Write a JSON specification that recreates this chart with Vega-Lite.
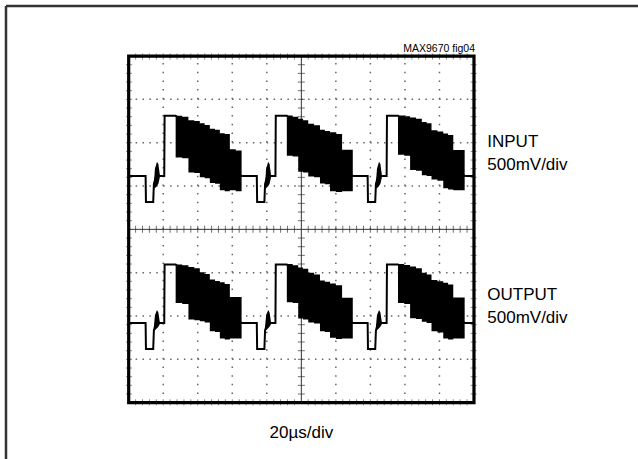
{
  "$schema": "https://vega.github.io/schema/vega-lite/v6.json",
  "width": 632,
  "height": 453,
  "autosize": {"type": "none"},
  "padding": {"left": 6, "top": 6, "right": 0, "bottom": 0},
  "background": "#ffffff",
  "config": {"view": {"stroke": null, "fill": null}, "style": {"cell": {"stroke": null, "fill": null}}},
  "datasets": {
    "trace": [
      {"ch": "in", "t": 0, "v": 1.23}, {"ch": "in", "t": 0.49, "v": 1.23}, {"ch": "in", "t": 0.5, "v": 0.63}, {"ch": "in", "t": 0.71, "v": 0.63},
      {"ch": "in", "t": 0.73, "v": 1.05}, {"ch": "in", "t": 0.8, "v": 1.25}, {"ch": "in", "t": 0.9, "v": 1.23}, {"ch": "in", "t": 1.03, "v": 1.23},
      {"ch": "in", "t": 1.04, "v": 2.62}, {"ch": "in", "t": 1.36, "v": 2.62}, {"ch": "in", "t": 3.27, "v": 1.23}, {"ch": "in", "t": 3.71, "v": 1.23},
      {"ch": "in", "t": 3.72, "v": 0.63}, {"ch": "in", "t": 3.93, "v": 0.63}, {"ch": "in", "t": 3.95, "v": 1.05}, {"ch": "in", "t": 4.02, "v": 1.25},
      {"ch": "in", "t": 4.12, "v": 1.23}, {"ch": "in", "t": 4.25, "v": 1.23}, {"ch": "in", "t": 4.26, "v": 2.62}, {"ch": "in", "t": 4.58, "v": 2.62},
      {"ch": "in", "t": 6.49, "v": 1.23}, {"ch": "in", "t": 6.92, "v": 1.23}, {"ch": "in", "t": 6.93, "v": 0.63}, {"ch": "in", "t": 7.14, "v": 0.63},
      {"ch": "in", "t": 7.16, "v": 1.05}, {"ch": "in", "t": 7.23, "v": 1.25}, {"ch": "in", "t": 7.33, "v": 1.23}, {"ch": "in", "t": 7.47, "v": 1.23},
      {"ch": "in", "t": 7.48, "v": 2.62}, {"ch": "in", "t": 7.8, "v": 2.62}, {"ch": "in", "t": 9.73, "v": 1.23}, {"ch": "in", "t": 10, "v": 1.23},
      {"ch": "out", "t": 0, "v": -2.16}, {"ch": "out", "t": 0.49, "v": -2.16}, {"ch": "out", "t": 0.5, "v": -2.76}, {"ch": "out", "t": 0.71, "v": -2.76},
      {"ch": "out", "t": 0.73, "v": -2.33}, {"ch": "out", "t": 0.8, "v": -2.14}, {"ch": "out", "t": 0.9, "v": -2.16}, {"ch": "out", "t": 1.03, "v": -2.16},
      {"ch": "out", "t": 1.04, "v": -0.81}, {"ch": "out", "t": 1.36, "v": -0.81}, {"ch": "out", "t": 3.27, "v": -2.16}, {"ch": "out", "t": 3.71, "v": -2.16},
      {"ch": "out", "t": 3.72, "v": -2.76}, {"ch": "out", "t": 3.93, "v": -2.76}, {"ch": "out", "t": 3.95, "v": -2.33}, {"ch": "out", "t": 4.02, "v": -2.14},
      {"ch": "out", "t": 4.12, "v": -2.16}, {"ch": "out", "t": 4.25, "v": -2.16}, {"ch": "out", "t": 4.26, "v": -0.81}, {"ch": "out", "t": 4.58, "v": -0.81},
      {"ch": "out", "t": 6.49, "v": -2.16}, {"ch": "out", "t": 6.92, "v": -2.16}, {"ch": "out", "t": 6.93, "v": -2.76}, {"ch": "out", "t": 7.14, "v": -2.76},
      {"ch": "out", "t": 7.16, "v": -2.33}, {"ch": "out", "t": 7.23, "v": -2.14}, {"ch": "out", "t": 7.33, "v": -2.16}, {"ch": "out", "t": 7.47, "v": -2.16},
      {"ch": "out", "t": 7.48, "v": -0.81}, {"ch": "out", "t": 7.8, "v": -0.81}, {"ch": "out", "t": 9.73, "v": -2.16}, {"ch": "out", "t": 10, "v": -2.16}
    ],
    "bands": [
      {"seg": "in1", "t": 1.36, "v": 2.62, "v2": 1.66}, {"seg": "in1", "t": 1.55, "v": 2.6, "v2": 1.64}, {"seg": "in1", "t": 1.73, "v": 2.52, "v2": 1.31}, {"seg": "in1", "t": 1.9, "v": 2.5, "v2": 1.3}, {"seg": "in1", "t": 2.06, "v": 2.45, "v2": 1.2},
      {"seg": "in1", "t": 2.2, "v": 2.41, "v2": 1.18}, {"seg": "in1", "t": 2.35, "v": 2.32, "v2": 1.07}, {"seg": "in1", "t": 2.5, "v": 2.3, "v2": 1.05}, {"seg": "in1", "t": 2.64, "v": 2.22, "v2": 0.9}, {"seg": "in1", "t": 2.78, "v": 2.2, "v2": 0.88}, {"seg": "in1", "t": 2.93, "v": 1.85, "v2": 0.9},
      {"seg": "in1", "t": 3.1, "v": 1.82, "v2": 0.88}, {"seg": "in1", "t": 3.27, "v": 1.82, "v2": 0.88},
      {"seg": "in2", "t": 4.58, "v": 2.63, "v2": 1.7}, {"seg": "in2", "t": 4.75, "v": 2.6, "v2": 1.68}, {"seg": "in2", "t": 4.91, "v": 2.55, "v2": 1.33}, {"seg": "in2", "t": 5.05, "v": 2.52, "v2": 1.31}, {"seg": "in2", "t": 5.2, "v": 2.44, "v2": 1.22},
      {"seg": "in2", "t": 5.37, "v": 2.4, "v2": 1.2}, {"seg": "in2", "t": 5.54, "v": 2.3, "v2": 1.06}, {"seg": "in2", "t": 5.68, "v": 2.27, "v2": 1.04}, {"seg": "in2", "t": 5.83, "v": 2.24, "v2": 0.88}, {"seg": "in2", "t": 6.0, "v": 2.2, "v2": 0.86}, {"seg": "in2", "t": 6.18, "v": 1.84, "v2": 0.88},
      {"seg": "in2", "t": 6.49, "v": 1.84, "v2": 0.88},
      {"seg": "in3", "t": 7.8, "v": 2.63, "v2": 1.72}, {"seg": "in3", "t": 7.98, "v": 2.61, "v2": 1.7}, {"seg": "in3", "t": 8.15, "v": 2.58, "v2": 1.37}, {"seg": "in3", "t": 8.32, "v": 2.55, "v2": 1.35}, {"seg": "in3", "t": 8.49, "v": 2.48, "v2": 1.25},
      {"seg": "in3", "t": 8.63, "v": 2.45, "v2": 1.23}, {"seg": "in3", "t": 8.77, "v": 2.29, "v2": 1.15}, {"seg": "in3", "t": 8.94, "v": 2.26, "v2": 1.12}, {"seg": "in3", "t": 9.11, "v": 2.21, "v2": 0.95}, {"seg": "in3", "t": 9.25, "v": 2.18, "v2": 0.92}, {"seg": "in3", "t": 9.4, "v": 1.83, "v2": 0.9},
      {"seg": "in3", "t": 9.73, "v": 1.83, "v2": 0.9},
      {"seg": "out1", "t": 1.36, "v": -0.81, "v2": -1.7}, {"seg": "out1", "t": 1.55, "v": -0.83, "v2": -1.72}, {"seg": "out1", "t": 1.73, "v": -0.87, "v2": -2.08}, {"seg": "out1", "t": 1.9, "v": -0.9, "v2": -2.1}, {"seg": "out1", "t": 2.06, "v": -0.99, "v2": -2.12},
      {"seg": "out1", "t": 2.2, "v": -1.03, "v2": -2.15}, {"seg": "out1", "t": 2.35, "v": -1.16, "v2": -2.35}, {"seg": "out1", "t": 2.5, "v": -1.19, "v2": -2.37}, {"seg": "out1", "t": 2.64, "v": -1.22, "v2": -2.52}, {"seg": "out1", "t": 2.78, "v": -1.26, "v2": -2.54}, {"seg": "out1", "t": 2.93, "v": -1.56, "v2": -2.52},
      {"seg": "out1", "t": 3.27, "v": -1.56, "v2": -2.52},
      {"seg": "out2", "t": 4.58, "v": -0.8, "v2": -1.68}, {"seg": "out2", "t": 4.75, "v": -0.83, "v2": -1.7}, {"seg": "out2", "t": 4.91, "v": -0.88, "v2": -2.06}, {"seg": "out2", "t": 5.05, "v": -0.91, "v2": -2.08}, {"seg": "out2", "t": 5.2, "v": -1.0, "v2": -2.15},
      {"seg": "out2", "t": 5.37, "v": -1.04, "v2": -2.17}, {"seg": "out2", "t": 5.54, "v": -1.18, "v2": -2.35}, {"seg": "out2", "t": 5.68, "v": -1.21, "v2": -2.37}, {"seg": "out2", "t": 5.83, "v": -1.25, "v2": -2.5}, {"seg": "out2", "t": 6.0, "v": -1.29, "v2": -2.53}, {"seg": "out2", "t": 6.18, "v": -1.58, "v2": -2.52},
      {"seg": "out2", "t": 6.49, "v": -1.58, "v2": -2.52},
      {"seg": "out3", "t": 7.8, "v": -0.8, "v2": -1.7}, {"seg": "out3", "t": 7.98, "v": -0.82, "v2": -1.72}, {"seg": "out3", "t": 8.15, "v": -0.86, "v2": -2.05}, {"seg": "out3", "t": 8.32, "v": -0.9, "v2": -2.07}, {"seg": "out3", "t": 8.49, "v": -1.0, "v2": -2.13},
      {"seg": "out3", "t": 8.63, "v": -1.04, "v2": -2.16}, {"seg": "out3", "t": 8.77, "v": -1.17, "v2": -2.35}, {"seg": "out3", "t": 8.94, "v": -1.2, "v2": -2.38}, {"seg": "out3", "t": 9.11, "v": -1.23, "v2": -2.52}, {"seg": "out3", "t": 9.25, "v": -1.27, "v2": -2.54}, {"seg": "out3", "t": 9.4, "v": -1.57, "v2": -2.52},
      {"seg": "out3", "t": 9.73, "v": -1.57, "v2": -2.52}
    ],
    "bursts": [
      {"seg": "bi1", "t": 0.73, "v": 1.05, "v2": 0.95}, {"seg": "bi1", "t": 0.76, "v": 1.4, "v2": 0.95}, {"seg": "bi1", "t": 0.82, "v": 1.56, "v2": 1.0}, {"seg": "bi1", "t": 0.86, "v": 1.5, "v2": 1.05}, {"seg": "bi1", "t": 0.9, "v": 1.27, "v2": 1.19},
      {"seg": "bi2", "t": 3.95, "v": 1.05, "v2": 0.95}, {"seg": "bi2", "t": 3.98, "v": 1.4, "v2": 0.95}, {"seg": "bi2", "t": 4.04, "v": 1.56, "v2": 1.0}, {"seg": "bi2", "t": 4.08, "v": 1.5, "v2": 1.05}, {"seg": "bi2", "t": 4.12, "v": 1.27, "v2": 1.19},
      {"seg": "bi3", "t": 7.16, "v": 1.05, "v2": 0.95}, {"seg": "bi3", "t": 7.19, "v": 1.4, "v2": 0.95}, {"seg": "bi3", "t": 7.25, "v": 1.56, "v2": 1.0}, {"seg": "bi3", "t": 7.29, "v": 1.5, "v2": 1.05}, {"seg": "bi3", "t": 7.33, "v": 1.27, "v2": 1.19},
      {"seg": "bo1", "t": 0.73, "v": -2.25, "v2": -2.33}, {"seg": "bo1", "t": 0.76, "v": -1.98, "v2": -2.33}, {"seg": "bo1", "t": 0.82, "v": -1.86, "v2": -2.28}, {"seg": "bo1", "t": 0.86, "v": -1.92, "v2": -2.25}, {"seg": "bo1", "t": 0.9, "v": -2.13, "v2": -2.19},
      {"seg": "bo2", "t": 3.95, "v": -2.25, "v2": -2.33}, {"seg": "bo2", "t": 3.98, "v": -1.98, "v2": -2.33}, {"seg": "bo2", "t": 4.04, "v": -1.86, "v2": -2.28}, {"seg": "bo2", "t": 4.08, "v": -1.92, "v2": -2.25}, {"seg": "bo2", "t": 4.12, "v": -2.13, "v2": -2.19},
      {"seg": "bo3", "t": 7.16, "v": -2.25, "v2": -2.33}, {"seg": "bo3", "t": 7.19, "v": -1.98, "v2": -2.33}, {"seg": "bo3", "t": 7.25, "v": -1.86, "v2": -2.28}, {"seg": "bo3", "t": 7.29, "v": -1.92, "v2": -2.25}, {"seg": "bo3", "t": 7.33, "v": -2.13, "v2": -2.19}
    ],
    "vgrid": [{"t": 1}, {"t": 2}, {"t": 3}, {"t": 4}, {"t": 6}, {"t": 7}, {"t": 8}, {"t": 9}],
    "hgrid": [{"v": -3}, {"v": -2}, {"v": -1}, {"v": 1}, {"v": 2}, {"v": 3}],
    "xt": [
      {"t": 0.2}, {"t": 0.4}, {"t": 0.6}, {"t": 0.8}, {"t": 1}, {"t": 1.2}, {"t": 1.4}, {"t": 1.6}, {"t": 1.8}, {"t": 2},
      {"t": 2.2}, {"t": 2.4}, {"t": 2.6}, {"t": 2.8}, {"t": 3}, {"t": 3.2}, {"t": 3.4}, {"t": 3.6}, {"t": 3.8}, {"t": 4},
      {"t": 4.2}, {"t": 4.4}, {"t": 4.6}, {"t": 4.8}, {"t": 5.2}, {"t": 5.4}, {"t": 5.6}, {"t": 5.8}, {"t": 6},
      {"t": 6.2}, {"t": 6.4}, {"t": 6.6}, {"t": 6.8}, {"t": 7}, {"t": 7.2}, {"t": 7.4}, {"t": 7.6}, {"t": 7.8}, {"t": 8},
      {"t": 8.2}, {"t": 8.4}, {"t": 8.6}, {"t": 8.8}, {"t": 9}, {"t": 9.2}, {"t": 9.4}, {"t": 9.6}, {"t": 9.8}
    ],
    "yt": [
      {"v": -3.8}, {"v": -3.6}, {"v": -3.4}, {"v": -3.2}, {"v": -3}, {"v": -2.8}, {"v": -2.6}, {"v": -2.4}, {"v": -2.2}, {"v": -2},
      {"v": -1.8}, {"v": -1.6}, {"v": -1.4}, {"v": -1.2}, {"v": -1}, {"v": -0.8}, {"v": -0.6}, {"v": -0.4}, {"v": -0.2},
      {"v": 0.2}, {"v": 0.4}, {"v": 0.6}, {"v": 0.8}, {"v": 1}, {"v": 1.2}, {"v": 1.4}, {"v": 1.6}, {"v": 1.8}, {"v": 2},
      {"v": 2.2}, {"v": 2.4}, {"v": 2.6}, {"v": 2.8}, {"v": 3}, {"v": 3.2}, {"v": 3.4}, {"v": 3.6}, {"v": 3.8}
    ],
    "bigLabels": [
      {"label": "INPUT", "t": 10.385, "v": 1.9}, {"label": "500mV/div", "t": 10.385, "v": 1.37},
      {"label": "OUTPUT", "t": 10.385, "v": -1.63}, {"label": "500mV/div", "t": 10.385, "v": -2.16}
    ],
    "xLabel": [{"label": "20µs/div", "t": 5.0, "v": -4.815}],
    "figLabel": [{"label": "MAX9670 fig04", "t": 10.03, "v": 4.1}]
  },
  "layer": [
    {
      "data": {"name": "vgrid"},
      "mark": {"type": "rule", "color": "#666666", "strokeWidth": 1.5, "strokeDash": [1.5, 7.17]},
      "encoding": {
        "x": {"field": "t", "type": "quantitative", "scale": {"domain": [-3.553, 14.75], "nice": false, "zero": false}, "axis": null},
        "y": {"datum": -4, "type": "quantitative", "scale": {"domain": [-5.3, 5.155], "nice": false, "zero": false}, "axis": null},
        "y2": {"datum": 4}
      }
    },
    {
      "data": {"name": "hgrid"},
      "mark": {"type": "rule", "color": "#666666", "strokeWidth": 1.5, "strokeDash": [1.5, 5.4]},
      "encoding": {
        "y": {"field": "v", "type": "quantitative", "axis": null},
        "x": {"datum": 0, "type": "quantitative", "axis": null},
        "x2": {"datum": 10}
      }
    },
    {
      "data": {"values": [{"t": 5}]},
      "mark": {"type": "rule", "color": "#333333", "strokeWidth": 1},
      "encoding": {
        "x": {"field": "t", "type": "quantitative", "axis": null},
        "y": {"datum": -4, "type": "quantitative", "axis": null},
        "y2": {"datum": 4}
      }
    },
    {
      "data": {"values": [{"v": 0}]},
      "mark": {"type": "rule", "color": "#333333", "strokeWidth": 1},
      "encoding": {
        "y": {"field": "v", "type": "quantitative", "axis": null},
        "x": {"datum": 0, "type": "quantitative", "axis": null},
        "x2": {"datum": 10}
      }
    },
    {
      "data": {"name": "xt"},
      "mark": {"type": "tick", "orient": "vertical", "size": 7, "thickness": 1, "color": "#333333"},
      "encoding": {
        "x": {"field": "t", "type": "quantitative", "axis": null},
        "y": {"datum": 0, "type": "quantitative", "axis": null}
      }
    },
    {
      "data": {"name": "yt"},
      "mark": {"type": "tick", "orient": "horizontal", "size": 7, "thickness": 1, "color": "#333333"},
      "encoding": {
        "y": {"field": "v", "type": "quantitative", "axis": null},
        "x": {"datum": 5, "type": "quantitative", "axis": null}
      }
    },
    {
      "data": {"name": "xt"},
      "mark": {"type": "tick", "orient": "vertical", "size": 6, "thickness": 1, "color": "#555555"},
      "encoding": {
        "x": {"field": "t", "type": "quantitative", "axis": null},
        "y": {"datum": 3.99, "type": "quantitative", "axis": null}
      }
    },
    {
      "data": {"name": "xt"},
      "mark": {"type": "tick", "orient": "vertical", "size": 6, "thickness": 1, "color": "#555555"},
      "encoding": {
        "x": {"field": "t", "type": "quantitative", "axis": null},
        "y": {"datum": -3.99, "type": "quantitative", "axis": null}
      }
    },
    {
      "data": {"name": "yt"},
      "mark": {"type": "tick", "orient": "horizontal", "size": 6, "thickness": 1, "color": "#555555"},
      "encoding": {
        "y": {"field": "v", "type": "quantitative", "axis": null},
        "x": {"datum": 0.01, "type": "quantitative", "axis": null}
      }
    },
    {
      "data": {"name": "yt"},
      "mark": {"type": "tick", "orient": "horizontal", "size": 6, "thickness": 1, "color": "#555555"},
      "encoding": {
        "y": {"field": "v", "type": "quantitative", "axis": null},
        "x": {"datum": 9.99, "type": "quantitative", "axis": null}
      }
    },
    {
      "data": {"name": "bands"},
      "mark": {"type": "area", "interpolate": "step-after", "color": "#000000", "opacity": 1},
      "encoding": {
        "x": {"field": "t", "type": "quantitative", "axis": null},
        "y": {"field": "v", "type": "quantitative", "axis": null},
        "y2": {"field": "v2"},
        "detail": {"field": "seg", "type": "nominal"}
      }
    },
    {
      "data": {"name": "bursts"},
      "mark": {"type": "area", "interpolate": "linear", "color": "#000000", "opacity": 1},
      "encoding": {
        "x": {"field": "t", "type": "quantitative", "axis": null},
        "y": {"field": "v", "type": "quantitative", "axis": null},
        "y2": {"field": "v2"},
        "detail": {"field": "seg", "type": "nominal"}
      }
    },
    {
      "data": {"name": "trace"},
      "mark": {"type": "line", "color": "#000000", "strokeWidth": 2},
      "encoding": {
        "x": {"field": "t", "type": "quantitative", "axis": null},
        "y": {"field": "v", "type": "quantitative", "axis": null},
        "detail": {"field": "ch", "type": "nominal"},
        "order": {"field": "t", "type": "quantitative"}
      }
    },
    {
      "data": {"values": [{"t": 0, "t2": 10, "v": -4, "v2": 4}]},
      "mark": {"type": "rect", "filled": false, "stroke": "#000000", "strokeWidth": 3.2},
      "encoding": {
        "x": {"field": "t", "type": "quantitative", "axis": null},
        "x2": {"field": "t2"},
        "y": {"field": "v", "type": "quantitative", "axis": null},
        "y2": {"field": "v2"}
      }
    },
    {
      "data": {"values": [{"t": -3.553, "v": -5.3, "v2": 5.155}]},
      "mark": {"type": "rule", "color": "#333333", "strokeWidth": 2.5},
      "encoding": {
        "x": {"field": "t", "type": "quantitative", "axis": null},
        "y": {"field": "v", "type": "quantitative", "axis": null},
        "y2": {"field": "v2"}
      }
    },
    {
      "data": {"values": [{"t": -3.553, "t2": 14.75, "v": 5.155}]},
      "mark": {"type": "rule", "color": "#333333", "strokeWidth": 2.5},
      "encoding": {
        "x": {"field": "t", "type": "quantitative", "axis": null},
        "x2": {"field": "t2"},
        "y": {"field": "v", "type": "quantitative", "axis": null}
      }
    },
    {
      "data": {"name": "bigLabels"},
      "mark": {"type": "text", "align": "left", "baseline": "alphabetic", "font": "Liberation Sans", "fontSize": 17, "color": "#000000"},
      "encoding": {
        "x": {"field": "t", "type": "quantitative", "axis": null},
        "y": {"field": "v", "type": "quantitative", "axis": null},
        "text": {"field": "label"}
      }
    },
    {
      "data": {"name": "xLabel"},
      "mark": {"type": "text", "align": "center", "baseline": "alphabetic", "font": "Liberation Sans", "fontSize": 17, "color": "#000000"},
      "encoding": {
        "x": {"field": "t", "type": "quantitative", "axis": null},
        "y": {"field": "v", "type": "quantitative", "axis": null},
        "text": {"field": "label"}
      }
    },
    {
      "data": {"name": "figLabel"},
      "mark": {"type": "text", "align": "right", "baseline": "alphabetic", "font": "Liberation Sans", "fontSize": 10.5, "color": "#000000"},
      "encoding": {
        "x": {"field": "t", "type": "quantitative", "axis": null},
        "y": {"field": "v", "type": "quantitative", "axis": null},
        "text": {"field": "label"}
      }
    }
  ]
}
